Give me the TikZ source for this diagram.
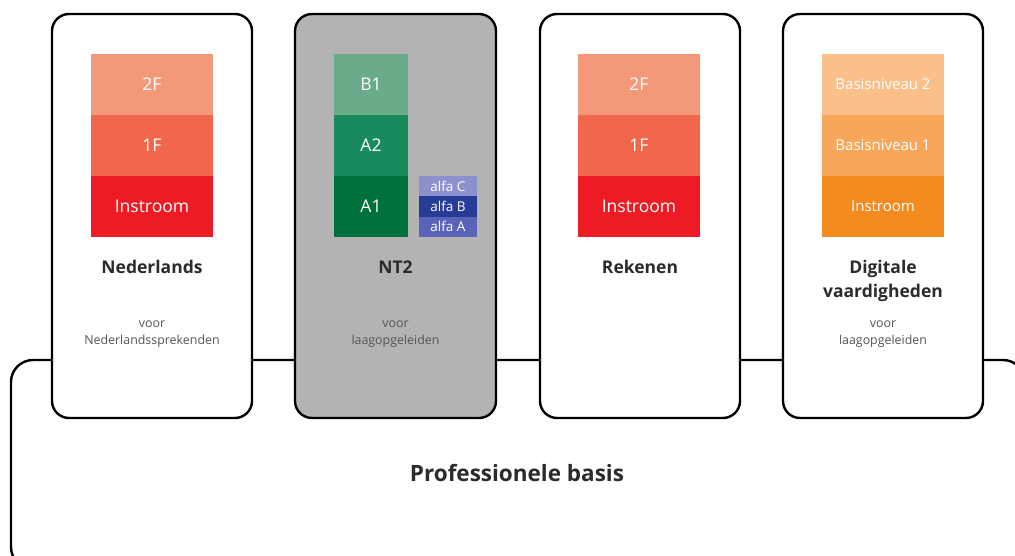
\documentclass[tikz,border=0pt]{standalone}
\usepackage{fontspec}
\setmainfont{Open Sans}
\usetikzlibrary{positioning}
\definecolor{nlA}{HTML}{F4987A}
\definecolor{nlB}{HTML}{F0674B}
\definecolor{nlC}{HTML}{ED1C24}
\definecolor{grB1}{HTML}{6AAB8A}
\definecolor{grA2}{HTML}{188A5E}
\definecolor{grA1}{HTML}{00703C}
\definecolor{alC}{HTML}{8C90CC}
\definecolor{alB}{HTML}{263C96}
\definecolor{alA}{HTML}{5A63B8}
\definecolor{orA}{HTML}{FBC08A}
\definecolor{orB}{HTML}{F8A75A}
\definecolor{orC}{HTML}{F48B20}
\definecolor{boxgray}{HTML}{B3B3B3}
\definecolor{titlecol}{HTML}{2B2B2B}
\definecolor{smallcol}{HTML}{555555}
\tikzset{
  colbox/.style={draw=black, line width=2.4pt, rounded corners=17pt, minimum width=200pt, minimum height=404pt, inner sep=0pt},
  block/.style={minimum width=122pt, minimum height=61pt, inner sep=0pt, text=white, font=\fontsize{17.5}{17.5}\selectfont},
  gblock/.style={block, minimum width=74pt},
  ablock/.style={minimum width=58pt, minimum height=20.33pt, inner sep=0pt, text=white, font=\fontsize{13.5}{13.5}\selectfont},
  bblock/.style={block, font=\fontsize{15}{15}\selectfont},
  title/.style={text=titlecol, font=\bfseries\fontsize{17.5}{24}\selectfont, align=center, inner sep=0pt},
  small/.style={text=smallcol, font=\fontsize{12.4}{17}\selectfont, align=center, inner sep=0pt},
  bigtitle/.style={text=titlecol, font=\bfseries\fontsize{22.5}{24}\selectfont, inner sep=0pt}
}
\begin{document}
\begin{tikzpicture}[x=1pt, y=-1pt]
\useasboundingbox (0,0) rectangle (1015,556);
\clip (0,0) rectangle (1015,556);
% base
\draw[line width=2.4pt, rounded corners=22pt] (11,360) rectangle (1025,569);
\node[bigtitle] (basis) at (517,473) {Professionele basis};
% columns
\node[colbox, fill=white] (box1) at (152,216) {};
\node[colbox, fill=boxgray, minimum width=201pt] (box2) at (395.5,216) {};
\node[colbox, fill=white] (box3) at (640,216) {};
\node[colbox, fill=white] (box4) at (883,216) {};
% Nederlands
\node[block, fill=nlA] (n2f) at (152,84.5) {2F};
\node[block, fill=nlB] (n1f) at (152,145.5) {1F};
\node[block, fill=nlC] (nin) at (152,206.5) {Instroom};
\node[title] (nt) at (152,267) {Nederlands};
\node[small] (ns) at (152,334) {voor\\Nederlandssprekenden};
% NT2
\node[gblock, fill=grB1] (b1) at (371,84.5) {B1};
\node[gblock, fill=grA2] (a2) at (371,145.5) {A2};
\node[gblock, fill=grA1] (a1) at (371,206.5) {A1};
\node[ablock, fill=alC] (alc) at (448,186.17) {alfa C};
\node[ablock, fill=alB] (alb) at (448,206.5) {alfa B};
\node[ablock, fill=alA] (ala) at (448,226.83) {alfa A};
\node[title] (ntt) at (395.5,267) {NT2};
\node[small] (nts) at (395.5,334) {voor\\laagopgeleiden};
% Rekenen
\node[block, fill=nlA] (r2f) at (639,84.5) {2F};
\node[block, fill=nlB] (r1f) at (639,145.5) {1F};
\node[block, fill=nlC] (rin) at (639,206.5) {Instroom};
\node[title] (rt) at (640,267) {Rekenen};
% Digitale
\node[bblock, fill=orA] (d2) at (883,84.5) {Basisniveau 2};
\node[bblock, fill=orB] (d1) at (883,145.5) {Basisniveau 1};
\node[bblock, fill=orC] (din) at (883,206.5) {Instroom};
\node[title] (dt) at (883,281) {Digitale\\vaardigheden};
\node[small] (ds) at (883,334) {voor\\laagopgeleiden};
\end{tikzpicture}
\end{document}
